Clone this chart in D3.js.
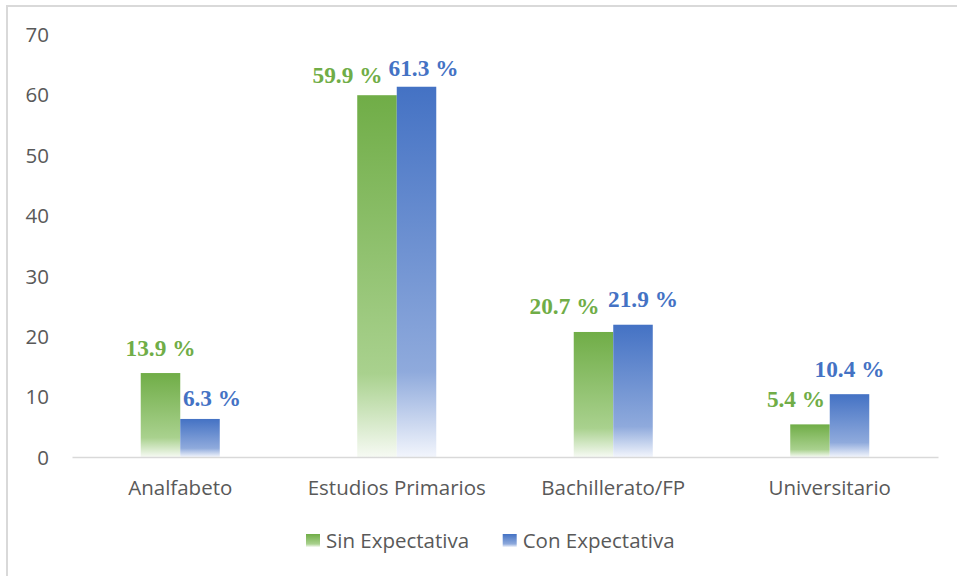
<!DOCTYPE html>
<html>
<head>
<meta charset="utf-8">
<script src="https://cdn.jsdelivr.net/npm/d3@7"></script>
<style>
  html, body { margin: 0; padding: 0; background: #ffffff; }
  svg { display: block; }
</style>
</head>
<body>
<svg id="chart" width="957" height="576"></svg>
<script>
// Education level of respondents, split by expectation group (percent)
const categories = ["Analfabeto", "Estudios Primarios", "Bachillerato/FP", "Universitario"];
const seriesNames = ["Sin Expectativa", "Con Expectativa"];
const sinExpectativa = [13.9, 59.9, 20.7, 5.4];
const conExpectativa = [6.3, 61.3, 21.9, 10.4];
const yTicks = [0, 10, 20, 30, 40, 50, 60, 70];

// Layout: nudges for the value labels (dx, dy from the bar top), per series
const labelNudge = [
  [[0, -16.7], [-29.5, -12.7], [-29, -18], [-14, -17.3]],
  [[12, -12.6], [7, -10.7], [10, -17.7], [0, -17.3]]
];
const palette = [
  { base: "#70AD47", mid: "#A9D18E", end: "#F6FAF3" },
  { base: "#4472C4", mid: "#8FAADC", end: "#F2F5FC" }
];

const values = [sinExpectativa, conExpectativa];
const rows = categories.map((c, i) => ({ cat: c, vals: values.map(v => v[i]) }));

const svg = d3.select("#chart");
const W = 957, H = 576;
const plotLeft = 72, plotRight = 938, plotBottom = 457, plotTop = 34.2;

// Chart area border
svg.append("rect")
  .attr("x", 7).attr("y", 6)
  .attr("width", 1000).attr("height", 1000)
  .attr("fill", "none").attr("stroke", "#D9D9D9").attr("stroke-width", 2);

// Vertical gradients for the bars
const defs = svg.append("defs");
palette.forEach((p, i) => {
  const g = defs.append("linearGradient")
    .attr("id", "grad" + i)
    .attr("x1", 0).attr("y1", 0).attr("x2", 0).attr("y2", 1);
  g.append("stop").attr("offset", "0%").attr("stop-color", p.base);
  g.append("stop").attr("offset", "77%").attr("stop-color", p.mid);
  g.append("stop").attr("offset", "100%").attr("stop-color", p.end);
});

const x0 = d3.scaleBand()
  .domain(categories)
  .range([plotLeft, plotRight])
  .paddingInner(0.635)
  .paddingOuter(0.3175);
const x1 = d3.scaleBand()
  .domain(d3.range(seriesNames.length))
  .range([0, x0.bandwidth()]);
const y = d3.scaleLinear().domain([0, 70]).range([plotBottom, plotTop]);

const font = "'Open Sans', 'Noto Sans', sans-serif";
const textColor = "#595959";

// Y axis (labels only)
const yAxis = svg.append("g")
  .attr("transform", `translate(${plotLeft},0)`)
  .call(d3.axisLeft(y).tickValues(yTicks).tickSize(0).tickPadding(23));
yAxis.select(".domain").remove();
yAxis.selectAll("text")
  .attr("fill", textColor)
  .style("font-family", font)
  .style("font-size", "20.5px")
  .attr("dy", "0.36em");

// Bars
const groups = svg.append("g").selectAll("g")
  .data(rows).join("g")
  .attr("transform", d => `translate(${x0(d.cat)},0)`);

groups.selectAll("rect")
  .data(d => d.vals.map((v, s) => ({ v, s })))
  .join("rect")
  .attr("x", d => x1(d.s))
  .attr("y", d => y(d.v))
  .attr("width", x1.bandwidth())
  .attr("height", d => y(0) - y(d.v))
  .attr("fill", d => `url(#grad${d.s})`);

// X axis with baseline
const xAxis = svg.append("g")
  .attr("transform", `translate(0,${plotBottom})`)
  .call(d3.axisBottom(x0).tickSize(0).tickSizeOuter(0));
xAxis.select(".domain").attr("stroke", "#D9D9D9").attr("stroke-width", 1.5);
xAxis.selectAll("text")
  .attr("fill", textColor)
  .attr("y", 38).attr("dy", 0)
  .style("font-family", font)
  .style("font-size", "20.5px");

// Value labels
groups.selectAll("text.val")
  .data((d, ci) => d.vals.map((v, s) => ({ v, s, ci })))
  .join("text")
  .attr("class", "val")
  .attr("text-anchor", "middle")
  .attr("x", d => x1(d.s) + x1.bandwidth() / 2 + labelNudge[d.s][d.ci][0])
  .attr("y", d => y(d.v) + labelNudge[d.s][d.ci][1])
  .attr("fill", d => palette[d.s].base)
  .style("font-family", "'Liberation Serif', 'Times New Roman', serif")
  .style("font-weight", "bold")
  .style("font-size", "23.3px")
  .text(d => d3.format(".1f")(d.v) + " %");

// Legend
const legendX = [306, 502.7];
const legend = svg.append("g").selectAll("g")
  .data(seriesNames).join("g")
  .attr("transform", (d, i) => `translate(${legendX[i]},534)`);
legend.append("rect")
  .attr("width", 14).attr("height", 13)
  .attr("fill", (d, i) => `url(#grad${i})`);
legend.append("text")
  .attr("x", 20).attr("y", 14)
  .attr("fill", textColor)
  .style("font-family", font)
  .style("font-size", "20.5px")
  .text(d => d);
</script>
</body>
</html>
